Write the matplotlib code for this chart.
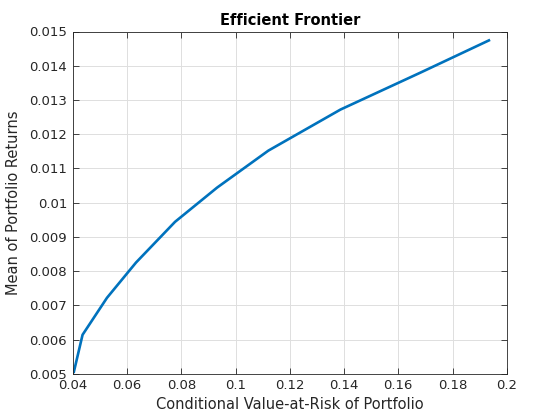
import numpy as np
import matplotlib.pyplot as plt

# frontier points
cvar = [0.0404, 0.0436, 0.0526, 0.0633, 0.0777, 0.0932, 0.1121, 0.1387, 0.1682, 0.1934]
ret = [0.00506, 0.00614, 0.00722, 0.00825, 0.00944, 0.01044, 0.01152, 0.01272, 0.01380, 0.01474]

xticks = [0.04, 0.06, 0.08, 0.1, 0.12, 0.14, 0.16, 0.18, 0.2]
xlabels = ['0.04', '0.06', '0.08', '0.1', '0.12', '0.14', '0.16', '0.18', '0.2']
yticks = [0.005, 0.006, 0.007, 0.008, 0.009, 0.01, 0.011, 0.012, 0.013, 0.014, 0.015]
ylabels = ['0.005', '0.006', '0.007', '0.008', '0.009', '0.01', '0.011',
           '0.012', '0.013', '0.014', '0.015']

fig = plt.figure(figsize=(5.6, 4.2), dpi=100)
ax = fig.add_axes([0.13, 0.11, 0.775, 0.815])
ax.plot(cvar, ret, color='#0072BD', lw=1.9)

ax.set_xlim(0.04, 0.2)
ax.set_ylim(0.005, 0.015)
ax.set_xticks(xticks)
ax.set_xticklabels(xlabels)
ax.set_yticks(yticks)
ax.set_yticklabels(ylabels)
ax.grid(True, color='#dedede', lw=0.7)
ax.set_axisbelow(True)
ax.tick_params(direction='in', top=True, right=True, labelsize=9.5, colors='#262626',
               length=4, width=0.6, pad=4)
for s in ax.spines.values():
    s.set_color('#262626')
    s.set_linewidth(0.6)

ax.set_xlabel('Conditional Value-at-Risk of Portfolio', fontsize=10.5, color='#262626', labelpad=3)
ax.set_ylabel('Mean of Portfolio Returns', fontsize=10.5, color='#262626', labelpad=6)
ax.set_title('Efficient Frontier', fontsize=10.5, fontweight='bold', pad=5)

fig.savefig('out.png', dpi=100)
